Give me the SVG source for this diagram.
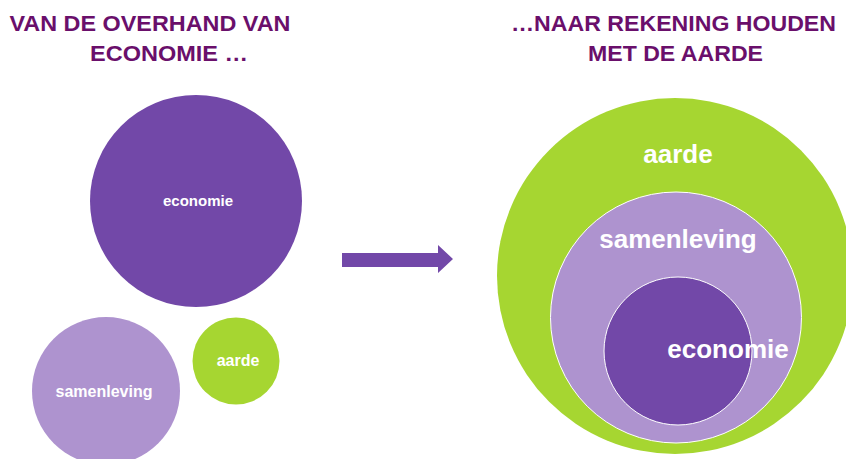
<svg xmlns="http://www.w3.org/2000/svg" width="846" height="459" viewBox="0 0 846 459">
<style>
.title{font-family:"Liberation Sans",Arial,sans-serif;font-weight:bold;font-size:22px;fill:#6A0F6B;text-anchor:middle}
.lbl{font-family:"Liberation Sans",Arial,sans-serif;font-weight:bold;fill:#FFFFFF;text-anchor:middle}
.eco{fill:#7248A8}
.sam{fill:#AE93CF}
.aar{fill:#A6D631}
</style>
<rect width="846" height="459" fill="#FFFFFF"/>
<g id="titles">
<text class="title" x="150" y="31" textLength="281" lengthAdjust="spacingAndGlyphs">VAN DE OVERHAND VAN</text>
<text class="title" x="169" y="61" textLength="158" lengthAdjust="spacingAndGlyphs">ECONOMIE …</text>
<text class="title" x="673.5" y="31" textLength="325" lengthAdjust="spacingAndGlyphs">…NAAR REKENING HOUDEN</text>
<text class="title" x="675.5" y="61" textLength="175" lengthAdjust="spacingAndGlyphs">MET DE AARDE</text>
</g>
<g id="left-economie">
<circle class="eco" cx="196" cy="201" r="106"/>
<text class="lbl" x="198" y="206" font-size="15">economie</text>
</g>
<g id="left-samenleving">
<circle class="sam" cx="106" cy="391" r="74"/>
<text class="lbl" x="104" y="397" font-size="16">samenleving</text>
</g>
<g id="left-aarde">
<circle class="aar" cx="236" cy="361" r="43.5"/>
<text class="lbl" x="238" y="366" font-size="16">aarde</text>
</g>
<g id="connectors">
<polygon fill="#7248A8" points="342,253 438,253 438,245 453,259 438,273 438,267 342,267"/>
</g>
<g id="right-aarde">
<circle class="aar" cx="675" cy="276" r="178"/>
<text class="lbl" x="678" y="163" font-size="26">aarde</text>
</g>
<g id="right-samenleving">
<circle class="sam" cx="676" cy="317.5" r="125.5" stroke="#FFFFFF" stroke-width="1"/>
<text class="lbl" x="678" y="248" font-size="26">samenleving</text>
</g>
<g id="right-economie">
<circle class="eco" cx="678" cy="351" r="74" stroke="#FFFFFF" stroke-width="1"/>
<text class="lbl" x="728" y="358" font-size="26">economie</text>
</g>
</svg>
